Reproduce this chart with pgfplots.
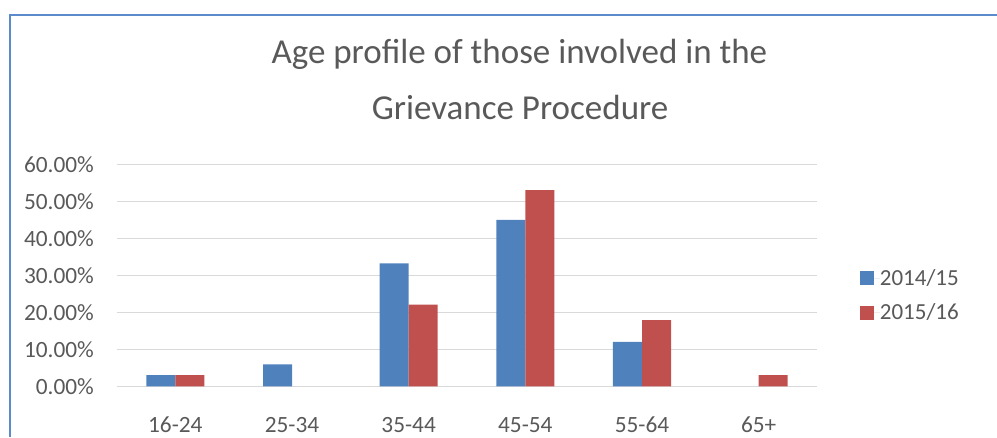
\documentclass[border=0pt]{standalone}
\usepackage{pgfplots}
\pgfplotsset{compat=1.18}
\usepackage{fontspec}
\setmainfont{Carlito}
\definecolor{sblue}{HTML}{4F81BD}
\definecolor{sred}{HTML}{C0504D}
\definecolor{txt}{HTML}{595959}
\definecolor{gridc}{HTML}{D9D9D9}
\definecolor{frame}{HTML}{5B8BCB}
\begin{document}
\begin{tikzpicture}
\useasboundingbox (0pt,0pt) rectangle (997pt,437pt);
\draw[frame, line width=1.8pt] (9.7pt,0pt) -- (9.7pt,422pt) -- (997pt,422pt);
\node[anchor=base, text=txt, inner sep=0pt, font=\fontsize{35}{42}\selectfont] at (519.4pt,373.7pt) {Age profile of those involved in the};
\node[anchor=base, text=txt, inner sep=0pt, font=\fontsize{35}{42}\selectfont] at (520pt,317pt) {Grievance Procedure};
\begin{axis}[
  at={(117pt,50.7pt)}, anchor=south west,
  scale only axis, width=700pt, height=222pt,
  xmin=-0.5, xmax=5.5, ymin=0, ymax=60,
  ybar=0pt, bar width=29pt,
  xtick={0,1,2,3,4,5},
  xticklabels={16-24,25-34,35-44,45-54,55-64,65+},
  ytick={0,10,20,30,40,50,60},
  yticklabels={0.00\%,10.00\%,20.00\%,30.00\%,40.00\%,50.00\%,60.00\%},
  major tick length=0pt,
  axis line style={draw=none},
  ymajorgrids, grid style={gridc, line width=1.2pt},
  tick label style={text=txt, font=\fontsize{23.3}{28}\selectfont},
  yticklabel style={inner sep=0pt, anchor=east, xshift=-23pt},
  xticklabel style={inner sep=0pt, anchor=base, yshift=-46.4pt},
  legend style={draw=none, at={(axis description cs:1.061,0.41)}, anchor=west, inner sep=0pt,
    font=\fontsize{23}{28}\selectfont, text=txt, row sep=17pt,
    nodes={inner sep=0pt}},
  legend cell align=left,
  legend image code/.code={\fill[#1] (0pt,-7pt) rectangle (14pt,7pt); \path (0pt,0pt) -- (20pt,0pt);},
]
\addplot[fill=sblue, draw=none] coordinates {(0,3.03) (1,5.9) (2,33.2) (3,45.0) (4,12.0)};
\addplot[fill=sred, draw=none] coordinates {(0,3.03) (2,22.1) (3,53.0) (4,17.9) (5,3.03)};
\legend{2014/15,2015/16}
\end{axis}
\end{tikzpicture}
\end{document}
